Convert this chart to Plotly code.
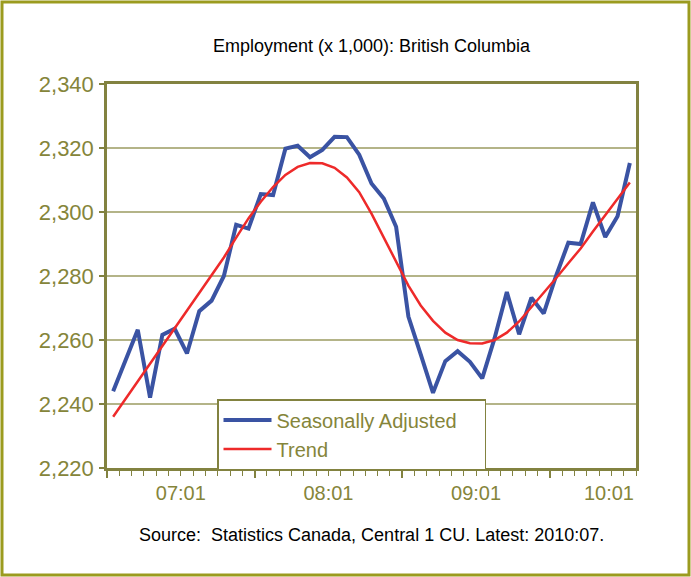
import plotly.graph_objects as go

# ---- data (monthly, 2007:01 .. 2010:07) ----
month_index = list(range(43))
seasonally_adjusted = [
    2244.0, 2253.6, 2263.2, 2242.0, 2261.6, 2263.5, 2255.8, 2269.0, 2272.3, 2280.0,
    2296.0, 2294.8, 2305.6, 2305.3, 2319.8, 2320.7, 2317.1, 2319.4, 2323.5, 2323.4,
    2317.9, 2308.9, 2304.2, 2295.4, 2267.3, 2255.5, 2243.5, 2253.4, 2256.5, 2253.2,
    2248.0, 2260.5, 2275.0, 2261.8, 2273.2, 2268.3, 2280.0, 2290.4, 2290.0, 2303.0,
    2292.2, 2298.7, 2315.3,
]
trend = [
    2236.0, 2241.5, 2247.0, 2252.5, 2258.0, 2263.5, 2269.0, 2274.5, 2280.0, 2285.8,
    2292.0, 2298.0, 2303.2, 2307.8, 2311.6, 2314.1, 2315.3, 2315.2, 2313.8, 2310.8,
    2306.2, 2299.5, 2292.0, 2284.5, 2277.0, 2270.8, 2266.0, 2262.3, 2260.0, 2259.0,
    2258.9, 2260.0, 2262.3, 2265.8, 2270.2, 2274.6, 2279.3, 2284.0, 2288.6, 2293.9,
    2299.0, 2304.0, 2309.2,
]
series_names = ["Seasonally Adjusted", "Trend"]
tick_labels = ["07:01", "08:01", "09:01", "10:01"]
tick_label_pos = [5.5, 17.5, 29.5, 40.3]
y_ticks = [2220, 2240, 2260, 2280, 2300, 2320, 2340]

FONT = "Liberation Sans, Arial, sans-serif"
OLIVE_TXT = "#85853a"
OLIVE_LINE = "#828240"
GRID = "#b4b488"
PAD = "\u00a0" * 4  # right padding inside the legend box

W, H = 691, 577
ML, MR, MT, MB = 107, 55, 84, 109
PW, PH = W - ML - MR, H - MT - MB
XR = [-0.5, len(month_index) - 0.5]

fig = go.Figure()
fig.add_trace(go.Scatter(
    x=month_index, y=seasonally_adjusted, mode="lines", name=series_names[0] + PAD,
    line=dict(color="#3a53a3", width=4)))
fig.add_trace(go.Scatter(
    x=month_index, y=trend, mode="lines", name=series_names[1],
    line=dict(color="#ee2a2a", width=2.5)))

# helper traces (invisible) so the extra tick axes render
for ax in ("x2", "x3"):
    fig.add_trace(go.Scatter(x=[month_index[0]], y=[trend[0]], xaxis=ax, yaxis="y",
                             mode="markers", marker=dict(opacity=0), showlegend=False,
                             hoverinfo="skip"))

fig.update_layout(
    width=W, height=H,
    margin=dict(l=ML, r=MR, t=MT, b=MB, pad=0),
    paper_bgcolor="white", plot_bgcolor="white",
    font=dict(family=FONT, color=OLIVE_TXT),
    title=dict(text="Employment (x 1,000): British Columbia",
               x=0.5, xref="paper", xanchor="center",
               y=1 - 46 / H, yref="container", yanchor="middle",
               font=dict(size=18, color="black", family=FONT)),
    showlegend=True,
    legend=dict(
        x=(217 - ML) / PW, y=(H - MB - 399) / PH, xanchor="left", yanchor="top",
        bgcolor="white", bordercolor=OLIVE_LINE, borderwidth=1.5,
        font=dict(size=20, color=OLIVE_TXT, family=FONT),
        itemwidth=48, tracegroupgap=0),
    # monthly tick marks + plot frame
    xaxis=dict(
        range=XR, tickmode="linear", tick0=-0.5, dtick=1,
        ticks="outside", ticklen=5, tickwidth=1.2, tickcolor=OLIVE_LINE,
        showticklabels=False, showgrid=False, zeroline=False,
        showline=True, mirror=True, linecolor=OLIVE_LINE, linewidth=2.5),
    # yearly (longer) tick marks
    xaxis2=dict(
        range=XR, overlaying="x", anchor="y", side="bottom",
        tickmode="linear", tick0=-0.5, dtick=12, ticks="outside", ticklen=9,
        tickwidth=1.5, tickcolor=OLIVE_LINE, showticklabels=False,
        showgrid=False, zeroline=False, showline=False),
    # tick labels
    xaxis3=dict(
        range=XR, overlaying="x", anchor="y", side="bottom",
        tickmode="array", tickvals=tick_label_pos, ticktext=tick_labels,
        ticks="", showgrid=False, zeroline=False, showline=False,
        tickfont=dict(size=20, color=OLIVE_TXT), ticklabelstandoff=11),
    yaxis=dict(
        range=[2220, 2340], tickmode="array", tickvals=y_ticks,
        ticktext=[f"{v:,}" for v in y_ticks],
        ticks="outside", ticklen=5, tickcolor=OLIVE_LINE, tickwidth=1.5,
        showgrid=True, gridcolor=GRID, gridwidth=1.5, zeroline=False,
        showline=True, mirror=True, linecolor=OLIVE_LINE, linewidth=2.5,
        tickfont=dict(size=22, color=OLIVE_TXT), ticklabelstandoff=1),
)

fig.add_annotation(
    text="Source:\u00a0 Statistics Canada, Central 1 CU. Latest: 2010:07.",
    x=0.5, xref="paper", xanchor="center",
    y=-(535 - (H - MB)) / PH, yref="paper", yanchor="middle",
    showarrow=False, font=dict(size=18, color="black", family=FONT))

# outer frame of the figure
fig.add_shape(type="rect", xref="paper", yref="paper",
              x0=-(ML - 2) / PW, x1=1 + (MR - 2) / PW,
              y0=-(MB - 2) / PH, y1=1 + (MT - 2) / PH,
              line=dict(color="#9b9b1f", width=3), fillcolor="rgba(0,0,0,0)",
              layer="below")

fig.write_html("out.html", config={"displayModeBar": False},
               post_script="document.body.style.margin='0';")
